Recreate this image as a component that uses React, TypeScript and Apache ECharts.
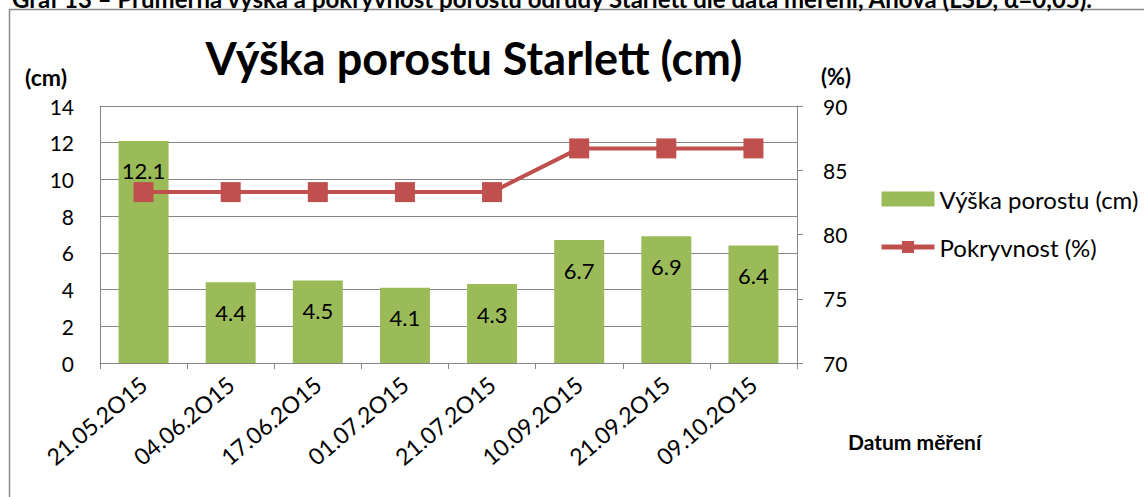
import React, { useEffect, useRef } from "react";
import * as echarts from "echarts";

const categories = [
  "21.05.2O15",
  "04.06.2O15",
  "17.06.2O15",
  "01.07.2O15",
  "21.07.2O15",
  "10.09.2O15",
  "21.09.2O15",
  "09.10.2O15",
];
const heightValues = [12.1, 4.4, 4.5, 4.1, 4.3, 6.7, 6.9, 6.4];
const coverValues = [83.3, 83.3, 83.3, 83.3, 83.3, 86.7, 86.7, 86.7];

const barName = "Výška porostu (cm)";
const lineName = "Pokryvnost (%)";
const chartTitle = "Výška porostu Starlett (cm)";
const caption =
  "Graf 13 – Průměrná výška a pokryvnost porostu odrůdy Starlett dle data měření, Anova (LSD, α=0,05).";
const leftUnit = "(cm)";
const rightUnit = "(%)";
const xName = "Datum měření";

const FONT = "Lato";
const GRID = "#868686";

export default function App() {
  const ref = useRef<HTMLDivElement>(null);
  useEffect(() => {
    if (!ref.current) return;
    const chart = echarts.init(ref.current, null, { renderer: "svg" });
    chart.setOption({
      animation: false,
      backgroundColor: "#ffffff",
      textStyle: { fontFamily: FONT },
      grid: { left: 100, right: 347, top: 106, bottom: 134, containLabel: false },
      legend: {
        orient: "vertical",
        left: 874,
        top: 182,
        itemWidth: 53,
        itemHeight: 15,
        itemGap: 24,
        textStyle: { fontFamily: FONT, fontSize: 24, color: "#000" },
        data: [
          { name: barName, icon: "rect" },
          { name: lineName, lineStyle: { width: 5, color: "#C0504D" } },
        ],
      },
      xAxis: {
        type: "category",
        data: categories,
        boundaryGap: true,
        axisLine: { show: true, lineStyle: { color: GRID, width: 1 } },
        axisTick: { show: true, length: 6, lineStyle: { color: GRID } },
        axisLabel: {
          rotate: 40,
          margin: 18,
          fontSize: 23,
          fontFamily: FONT,
          color: "#000",
          interval: 0,
        },
      },
      yAxis: [
        {
          type: "value",
          min: 0,
          max: 14,
          interval: 2,
          axisLine: { show: true, lineStyle: { color: GRID } },
          axisTick: { show: false },
          splitLine: { show: true, lineStyle: { color: GRID, width: 1 } },
          axisLabel: { margin: 26, fontSize: 21, fontFamily: FONT, color: "#000" },
        },
        {
          type: "value",
          min: 70,
          max: 90,
          interval: 5,
          position: "right",
          axisLine: { show: true, lineStyle: { color: GRID } },
          axisTick: { show: true, length: 6, lineStyle: { color: GRID } },
          splitLine: { show: false },
          axisLabel: { margin: 26, fontSize: 21, fontFamily: FONT, color: "#000" },
        },
      ],
      series: [
        {
          name: barName,
          type: "bar",
          data: heightValues,
          barWidth: 50,
          itemStyle: { color: "#9BBB59" },
          label: {
            show: true,
            position: "insideTop",
            distance: 19,
            fontSize: 22,
            fontFamily: FONT,
            color: "#000",
          },
        },
        {
          name: lineName,
          type: "line",
          yAxisIndex: 1,
          data: coverValues,
          symbol: "rect",
          symbolSize: 20,
          itemStyle: { color: "#C0504D" },
          lineStyle: { color: "#C0504D", width: 4 },
        },
      ],
      graphic: [
        {
          type: "rect",
          shape: { x: 9.5, y: 9.5, width: 1300, height: 700 },
          style: { fill: "none", stroke: "#8a8a8a", lineWidth: 1.5 },
          silent: true,
        },
        {
          type: "text",
          x: 12,
          y: 10,
          style: {
            text: caption,
            fontFamily: FONT,
            fontWeight: "bold",
            fontSize: 24,
            fill: "#000",
            textAlign: "left",
            textVerticalAlign: "bottom",
          },
        },
        {
          type: "text",
          x: 474,
          y: 58,
          style: {
            text: chartTitle,
            fontFamily: FONT,
            fontWeight: "bold",
            fontSize: 45,
            fill: "#000",
            textAlign: "center",
            textVerticalAlign: "middle",
          },
        },
        {
          type: "text",
          x: 46,
          y: 77,
          style: {
            text: leftUnit,
            fontFamily: FONT,
            fontWeight: "bold",
            fontSize: 23,
            fill: "#000",
            textAlign: "center",
            textVerticalAlign: "middle",
          },
        },
        {
          type: "text",
          x: 836,
          y: 76,
          style: {
            text: rightUnit,
            fontFamily: FONT,
            fontWeight: "bold",
            fontSize: 22,
            fill: "#000",
            textAlign: "center",
            textVerticalAlign: "middle",
          },
        },
        {
          type: "text",
          x: 848,
          y: 441,
          style: {
            text: xName,
            fontFamily: FONT,
            fontWeight: "bold",
            fontSize: 21,
            fill: "#000",
            textAlign: "left",
            textVerticalAlign: "middle",
          },
        },
      ],
    });
    return () => chart.dispose();
  }, []);
  return (
    <div
      ref={ref}
      style={{ position: "fixed", left: 0, top: 0, width: 1144, height: 497 }}
    />
  );
}
